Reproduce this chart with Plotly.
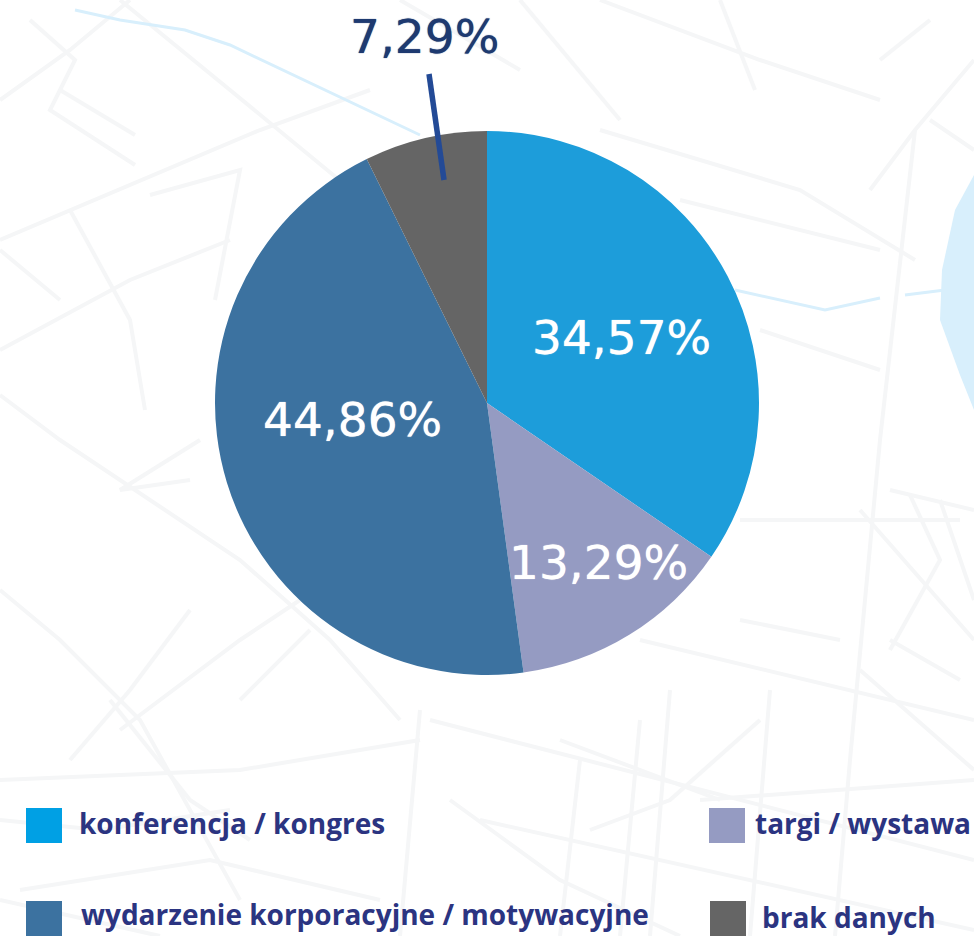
import plotly.graph_objects as go

W, H = 974, 936
categories = ["konferencja / kongres", "targi / wystawa", "wydarzenie korporacyjne / motywacyjne", "brak danych"]
values = [34.57, 13.29, 44.86, 7.29]
colors = ["#1d9dda", "#959bc2", "#3c72a0", "#656565"]
legend_colors = ["#00a0e4", "#959bc2", "#3c72a0", "#656565"]
label_pos = [(621, 337), (598, 562), (352, 420), (424, 37)]
label_colors = ["white", "white", "white", "#1e3a70"]
legend_box = [(26, 808), (709, 808), (26, 901), (710, 901)]
legend_text = [(77, 823), (753, 823), (79, 914), (760, 917)]

# faint street map behind the chart (decoration)
streets = [
    [(0, 395), (60, 440), (240, 560), (330, 640), (400, 720)],
    [(0, 590), (60, 640), (140, 720), (190, 810), (240, 900)],
    [(0, 240), (260, 130), (370, 90)],
    [(120, 0), (230, 90), (400, 230)],
    [(70, 210), (130, 320), (145, 410)],
    [(0, 350), (130, 280), (230, 240)],
    [(915, 130), (880, 440), (850, 760), (835, 936)],
    [(760, 330), (880, 370)],
    [(740, 520), (960, 520)],
    [(420, 710), (400, 936)],
    [(640, 640), (974, 720)],
    [(430, 720), (974, 860)],
    [(480, 820), (974, 930)],
    [(580, 760), (560, 936)],
    [(670, 690), (650, 936)],
    [(770, 690), (750, 936)],
    [(0, 780), (240, 770), (420, 740)],
    [(600, 130), (800, 190), (915, 260)],
    [(600, 0), (760, 60), (880, 100)],
    [(520, 0), (620, 120)],
    [(974, 60), (915, 130), (870, 190)],
    [(890, 490), (974, 510)],
    [(0, 900), (160, 936)],
    [(120, 730), (240, 640), (300, 600)],
    [(400, 0), (520, 70)],
    [(720, 0), (755, 90)],
    [(860, 510), (974, 640)],
    [(30, 20), (75, 60), (50, 110), (135, 165)],
    [(150, 195), (240, 170), (215, 300)],
    [(60, 90), (135, 135)],
    [(0, 100), (70, 50), (130, 0)],
    [(910, 495), (940, 560), (890, 650)],
    [(940, 500), (974, 600)],
    [(890, 640), (960, 680)],
    [(70, 760), (130, 690), (190, 610)],
    [(110, 700), (190, 800), (250, 840)],
    [(240, 700), (310, 630)],
    [(0, 820), (100, 830), (230, 810)],
    [(20, 890), (210, 860), (380, 900)],
    [(640, 720), (620, 936)],
    [(700, 800), (974, 780)],
    [(590, 830), (670, 800), (760, 720)],
    [(450, 800), (560, 880), (680, 936)],
    [(560, 740), (720, 800)],
    [(860, 670), (974, 770)],
    [(740, 620), (840, 640)],
    [(880, 60), (930, 20)],
    [(930, 120), (974, 150)],
    [(60, 300), (0, 250)],
    [(680, 200), (880, 250)],
    [(200, 440), (120, 490), (190, 480)],
]
river_lines = [
    [(75, 10), (120, 20), (185, 30), (230, 45), (420, 135)],
    [(735, 290), (825, 310), (880, 298)],
    [(905, 295), (945, 290)],
]
river_area = [(974, 175), (955, 210), (942, 270), (940, 320), (960, 375), (974, 410)]


def px(x):
    return x / W


def py(y):
    return 1 - y / H


def pct(v):
    return f"{v:.2f}".replace(".", ",") + "%"


def svg_path(points, close=False):
    return "M" + " L".join(f"{x},{H - y}" for x, y in points) + (" Z" if close else "")


shapes = []
for s in streets:
    shapes.append(dict(type="path", path=svg_path(s), xref="x", yref="y", layer="below",
                       line=dict(color="#f5f6f7", width=4)))
for s in river_lines:
    shapes.append(dict(type="path", path=svg_path(s), xref="x", yref="y", layer="below",
                       line=dict(color="#d8effc", width=3)))
shapes.append(dict(type="path", xref="x", yref="y", layer="below", line=dict(width=0), fillcolor="#d8effc",
                   path=svg_path(river_area, close=True)))

for (x, y), c in zip(legend_box, legend_colors):
    shapes.append(dict(type="rect", xref="paper", yref="paper", x0=px(x), x1=px(x + 36),
                       y0=py(y + 35), y1=py(y), fillcolor=c, line=dict(width=0)))
shapes.append(dict(type="line", xref="paper", yref="paper", x0=px(429), y0=py(74), x1=px(444), y1=py(180),
                   line=dict(color="#234a96", width=5.5), layer="above"))

annotations = []
for v, (x, y), c in zip(values, label_pos, label_colors):
    annotations.append(dict(text=pct(v), x=px(x), y=py(y), xref="paper", yref="paper", showarrow=False,
                            xanchor="center", yanchor="middle",
                            font=dict(family="DejaVu Sans", size=47, color=c, shadow=f"0 0 1px {c}")))
for t, (x, y) in zip(categories, legend_text):
    annotations.append(dict(text=t, x=px(x), y=py(y), xref="paper", yref="paper", showarrow=False,
                            xanchor="left", yanchor="middle",
                            font=dict(family="Open Sans", size=28, color="#2b3481", weight=700)))

fig = go.Figure(go.Pie(
    labels=categories, values=values, sort=False, direction="clockwise", rotation=0,
    marker=dict(colors=colors, line=dict(width=0)), textinfo="none", hoverinfo="label+percent",
    domain=dict(x=[215 / W, 759 / W], y=[1 - 675 / H, 1 - 131 / H]),
))
# invisible cartesian axes in page pixels, used only for the background map
fig.add_trace(go.Scatter(x=[0, W], y=[0, H], mode="markers", marker=dict(opacity=0), hoverinfo="skip", showlegend=False))
fig.update_layout(
    width=W, height=H, margin=dict(l=0, r=0, t=0, b=0), showlegend=False,
    paper_bgcolor="white", plot_bgcolor="rgba(0,0,0,0)",
    xaxis=dict(range=[0, W], visible=False, fixedrange=True),
    yaxis=dict(range=[0, H], visible=False, fixedrange=True),
    shapes=shapes, annotations=annotations,
)
fig.write_html("out.html", config=dict(displayModeBar=False),
               post_script="document.body.style.margin='0';document.body.style.overflow='hidden';")
